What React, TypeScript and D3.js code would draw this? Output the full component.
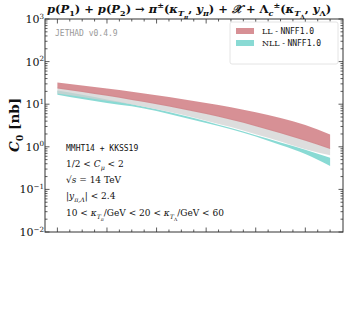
import * as d3 from 'd3';

// rapidity interval (no tick labels in the picture)
const dy = [1, 1.5, 2, 2.5, 3, 3.5, 4, 4.5, 5, 5.5, 6, 6.5];
const llHi = [32.4, 27.5, 23.3, 19.5, 16.2, 13.3, 10.7, 8.5, 6.5, 4.76, 3.26, 1.95];
const llLo = [23.4, 19.3, 15.7, 12.6, 10.0, 7.76, 5.9, 4.3, 3.05, 2.09, 1.38, 0.89];
const grayHi = [25.1, 20.6, 16.8, 13.5, 10.7, 8.3, 6.3, 4.6, 3.27, 2.24, 1.48, 0.95];
const grayLo = [17.8, 14.8, 12.0, 9.8, 7.6, 5.7, 4.1, 2.9, 1.97, 1.33, 0.88, 0.63];
const nllHi = [20.9, 16.6, 12.9, 10.0, 7.6, 5.6, 4.0, 2.75, 1.86, 1.26, 0.85, 0.55];
const nllLo = [16.6, 13.2, 10.7, 8.9, 6.9, 5.0, 3.6, 2.57, 1.74, 1.1, 0.68, 0.355];
const xMajor = [1, 2, 3, 4, 5, 6];
const xMinor = [1.25, 1.5, 1.75, 2.25, 2.5, 2.75, 3.25, 3.5, 3.75, 4.25, 4.5, 4.75, 5.25, 5.5, 5.75, 6.25, 6.5];
const yExp = [3, 2, 1, 0, -1, -2];

const W = 349, H = 328;
const m = { left: 45, right: 6, top: 19, bottom: 96 };
const serif = "'DejaVu Serif', serif";
const mono = "'DejaVu Sans Mono', monospace";
const RED = '#d07d83';
const CYAN = '#74d4cd';
const GRAY = '#d2d2d2';

type Seg = { s: string; o?: number; k?: number; i?: boolean; f?: string };

const Rich = ({ x, y, size, segs, weight, anchor }: { x: number; y: number; size: number; segs: Seg[]; weight?: string; anchor?: string }) => {
  let prev = 0;
  return (
    <text x={x} y={y} fontSize={size} fontFamily={serif} fontWeight={weight || 'normal'} textAnchor={anchor || 'start'} fill="#111">
      {segs.map((g, i) => {
        const o = g.o || 0;
        const d = (o - prev) * size;
        prev = o;
        return (
          <tspan key={i} dy={d} fontSize={(g.k || 1) * size} fontStyle={g.i ? 'italic' : 'normal'} fontFamily={g.f || serif}>{g.s}</tspan>
        );
      })}
    </text>
  );
};

const sub = 0.3, sup = -0.42, sm = 0.7;

export default function App() {
  const iw = W - m.left - m.right;
  const ih = H - m.top - m.bottom;
  const x = d3.scaleLinear().domain([0.75, 6.76]).range([m.left, m.left + iw]);
  const y = d3.scaleLog().domain([1e-2, 1e3]).range([m.top + ih, m.top]);
  const yTicks = y.ticks();

  const band = (hi: number[], lo: number[]) =>
    d3.area<number>()
      .x((d) => x(d))
      .y0((_, i) => y(lo[i]))
      .y1((_, i) => y(hi[i]))
      .curve(d3.curveMonotoneX)(dy) || '';

  const x0 = m.left, x1 = m.left + iw, y0 = m.top, y1 = m.top + ih;

  const title: Seg[] = [
    { s: 'p', i: true }, { s: '(' }, { s: 'P', i: true }, { s: '1', o: sub, k: sm }, { s: ') + ' },
    { s: 'p', i: true }, { s: '(' }, { s: 'P', i: true }, { s: '2', o: sub, k: sm }, { s: ') → ' },
    { s: 'π', i: true }, { s: '±', o: sup, k: sm }, { s: '(' }, { s: 'κ', i: true }, { s: 'T', o: sub, k: sm, i: true },
    { s: 'π', o: 0.5, k: 0.5, i: true }, { s: ', ' }, { s: 'y', i: true }, { s: 'π', o: sub, k: sm, i: true },
    { s: ') + ' }, { s: '𝒳', i: true }, { s: ' + ' }, { s: 'Λ' },
    { s: 'c', o: sub, k: sm, i: true }, { s: '±', o: sup, k: sm },
    { s: '(' }, { s: 'κ', i: true }, { s: 'T', o: sub, k: sm, i: true }, { s: 'Λ', o: 0.5, k: 0.5 },
    { s: ', ' }, { s: 'y', i: true }, { s: 'Λ', o: sub, k: sm }, { s: ')' },
  ];

  return (
    <div style={{ position: 'absolute', left: 0, top: 0 }}>
      <svg width={W} height={H} style={{ display: 'block', background: '#fff' }}>
        <rect width={W} height={H} fill="#fff" />

        {/* bands */}
        <path d={band(nllHi, nllLo)} fill={CYAN} fillOpacity={0.85} />
        <path d={band(grayHi, grayLo)} fill={GRAY} fillOpacity={0.75} />
        <path d={band(llHi, llLo)} fill={RED} fillOpacity={0.85} />

        {/* frame */}
        <rect x={x0} y={y0} width={iw} height={ih} fill="none" stroke="#333" strokeWidth={1} />

        {/* y ticks, both sides */}
        {yTicks.map((t, i) => {
          const major = Math.abs(Math.log10(t) - Math.round(Math.log10(t))) < 1e-6;
          const L = major ? 4.5 : 2.5;
          const py = y(t);
          return (
            <g key={'y' + i} stroke="#333" strokeWidth={0.8}>
              <line x1={x0} x2={x0 + L} y1={py} y2={py} />
              <line x1={x1} x2={x1 - L} y1={py} y2={py} />
            </g>
          );
        })}
        {/* x ticks, top and bottom */}
        {xMajor.map((t) => (
          <g key={'xm' + t} stroke="#333" strokeWidth={0.8}>
            <line x1={x(t)} x2={x(t)} y1={y1} y2={y1 - 4.5} />
            <line x1={x(t)} x2={x(t)} y1={y0} y2={y0 + 4.5} />
          </g>
        ))}
        {xMinor.map((t) => (
          <g key={'xn' + t} stroke="#333" strokeWidth={0.8}>
            <line x1={x(t)} x2={x(t)} y1={y1} y2={y1 - 2.5} />
            <line x1={x(t)} x2={x(t)} y1={y0} y2={y0 + 2.5} />
          </g>
        ))}

        {/* y tick labels */}
        {yExp.map((e) => (
          <Rich key={'yl' + e} x={x0 - 1} y={y(Math.pow(10, e)) + 4} size={11} anchor="end"
            segs={[{ s: '10' }, { s: e < 0 ? '−' + (-e) : String(e), o: -0.4, k: 0.65 }]} />
        ))}

        {/* y axis title */}
        <g transform={`translate(${19},${125}) rotate(-90)`}>
          <Rich x={0} y={0} size={13.5} anchor="middle" weight="bold"
            segs={[{ s: 'C', i: true }, { s: '0', o: sub, k: sm }, { s: ' [nb]' }]} />
        </g>

        {/* title */}
        <Rich x={47} y={13} size={11.5} weight="bold" segs={title} />

        <text x={55} y={36} fontSize={8} fontFamily={mono} fill="#999">JETHAD v0.4.9</text>

        {/* legend */}
        <rect x={230} y={22} width={108} height={42} rx={2} fill="#fff" stroke="#ddd" strokeWidth={0.8} />
        <rect x={236} y={28} width={18} height={6} fill={RED} fillOpacity={0.85} />
        <rect x={236} y={40} width={18} height={6} fill={CYAN} fillOpacity={0.85} />
        <Rich x={262} y={34} size={8} segs={[{ s: 'LL - ' }, { s: 'NNFF1.0', f: mono }]} />
        <Rich x={262} y={46} size={8} segs={[{ s: 'NLL - ' }, { s: 'NNFF1.0', f: mono }]} />

        {/* annotations */}
        <text x={66} y={151} fontSize={8} fontFamily={mono} fill="#111">MMHT14 + KKSS19</text>
        <Rich x={66} y={167} size={9} segs={[{ s: '1/2 < ' }, { s: 'C', i: true }, { s: 'μ', o: sub, k: sm, i: true }, { s: ' < 2' }]} />
        <Rich x={66} y={183} size={9} segs={[{ s: '√' }, { s: 's', i: true }, { s: ' = 14 TeV' }]} />
        <Rich x={66} y={199} size={9} segs={[{ s: '|' }, { s: 'y', i: true }, { s: 'π,Λ', o: sub, k: sm, i: true }, { s: '| < 2.4' }]} />
        <Rich x={66} y={216} size={9} segs={[
          { s: '10 < ' }, { s: 'κ', i: true }, { s: 'T', o: sub, k: sm, i: true }, { s: 'π', o: 0.5, k: 0.5, i: true },
          { s: '/GeV < 20 < ' }, { s: 'κ', i: true }, { s: 'T', o: sub, k: sm, i: true }, { s: 'Λ', o: 0.5, k: 0.5 },
          { s: '/GeV < 60' },
        ]} />
      </svg>
    </div>
  );
}
